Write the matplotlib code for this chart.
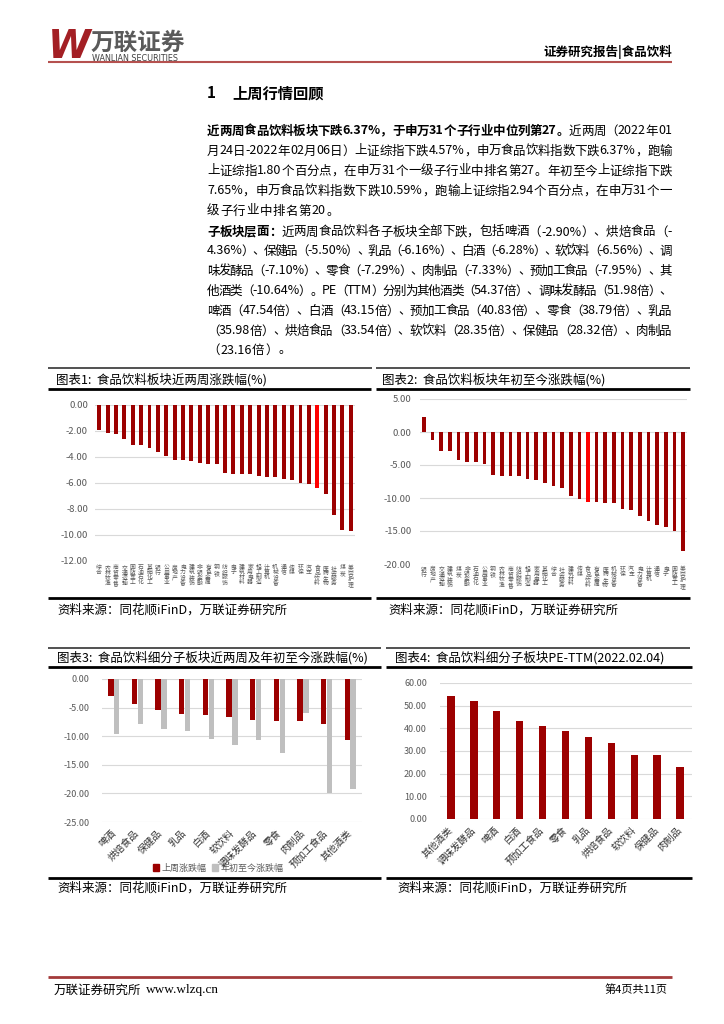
import re
import matplotlib
matplotlib.use('Agg')
import matplotlib.pyplot as plt
from matplotlib.lines import Line2D
from matplotlib.patches import Patch

plt.rcParams['font.family'] = ['Noto Sans CJK SC', 'DejaVu Sans']
plt.rcParams['axes.unicode_minus'] = False

# ---------------- data ----------------
ind_2w = ['综合', '农林牧渔', '商贸零售', '交通运输', '国防军工', '石油石化', '基础化工', '银行',
          '公用事业', '房地产', '电力设备', '建筑装饰', '非银金融', '有色金属', '钢铁', '纺织服饰',
          '电子', '建筑材料', '家用电器', '轻工制造', '计算机', '机械设备', '通信', '传媒',
          '环保', '汽车', '食品饮料', '医药生物', '社会服务', '煤炭', '美容护理']
chg_2w = [-1.95, -2.13, -2.26, -2.62, -3.05, -3.10, -3.28, -3.62, -3.92, -4.21, -4.21, -4.28,
          -4.46, -4.51, -4.54, -5.26, -5.28, -5.28, -5.31, -5.49, -5.54, -5.54, -5.69, -5.77,
          -6.03, -6.08, -6.37, -6.82, -8.49, -9.62, -9.69]

ind_ytd = ['银行', '房地产', '交通运输', '建筑装饰', '煤炭', '非银金融', '石油石化', '公用事业',
           '钢铁', '农林牧渔', '商贸零售', '纺织服饰', '轻工制造', '家用电器', '基础化工', '综合',
           '社会服务', '建筑材料', '传媒', '食品饮料', '有色金属', '医药生物', '机械设备', '环保',
           '汽车', '电力设备', '计算机', '通信', '电子', '国防军工', '美容护理']
chg_ytd = [2.33, -1.27, -2.83, -2.83, -4.20, -4.50, -4.60, -4.86, -6.53, -6.68, -6.73, -6.73,
           -7.09, -7.34, -7.69, -8.20, -8.45, -9.67, -10.17, -10.59, -10.58, -10.73, -10.83,
           -11.64, -11.79, -12.75, -13.41, -14.12, -14.37, -14.98, -17.97]

sub_names = ['啤酒', '烘焙食品', '保健品', '乳品', '白酒', '软饮料', '调味发酵品', '零食',
             '肉制品', '预加工食品', '其他酒类']
sub_2w = [-2.90, -4.36, -5.50, -6.16, -6.28, -6.56, -7.10, -7.29, -7.33, -7.95, -10.64]
sub_ytd = [-9.64, -7.83, -8.76, -9.11, -10.46, -11.62, -10.63, -12.91, -5.90, -19.92, -19.28]
legend_labels = ['上周涨跌幅', '年初至今涨跌幅']

pe_names = ['其他酒类', '调味发酵品', '啤酒', '白酒', '预加工食品', '零食', '乳品', '烘焙食品',
            '软饮料', '保健品', '肉制品']
pe_vals = [54.37, 51.98, 47.54, 43.15, 40.83, 38.79, 35.98, 33.54, 28.35, 28.32, 23.16]

DARK = '#9C0000'
BRIGHT = '#FF0000'
GRAY_BAR = '#BFBFBF'
GRID = '#D9D9D9'
TICK = '#595959'

W, H = 724, 1024
fig = plt.figure(figsize=(7.24, 10.24), dpi=100)
fig.patch.set_facecolor('white')


def fx(x):
    return x / W


def fy(y):
    return 1 - y / H


def hline(y, x0, x1, color='black', lw=1.0):
    fig.add_artist(Line2D([fx(x0), fx(x1)], [fy(y), fy(y)], color=color, lw=lw,
                          transform=fig.transFigure, solid_capstyle='butt'))


def add_ax(l, r, t, b):
    return fig.add_axes([fx(l), fy(b), (r - l) / W, (b - t) / H])


def style_ax(ax, ticks, ypad, size=6.5):
    ax.set_yticks(ticks)
    ax.set_yticklabels([f'{v:.2f}' for v in ticks])
    ax.tick_params(axis='y', length=0, pad=ypad, labelsize=size, labelcolor=TICK)
    ax.grid(axis='y', color=GRID, lw=0.8)
    ax.set_axisbelow(True)
    for s in ax.spines.values():
        s.set_visible(False)


# ---------------- header ----------------
fig.text(fx(48), fy(47), 'W', fontsize=28, fontweight='bold', style='italic',
         color='#A31F24', family='DejaVu Sans', va='center', ha='left')
fig.text(fx(91), fy(43), '万联证券', fontsize=17, fontweight='bold', color='#5A5A5A',
         va='center', ha='left')
fig.text(fx(92), fy(58.5), 'WANLIAN SECURITIES', fontsize=5.8, color='#404040',
         family='DejaVu Sans', va='center', ha='left')
fig.text(fx(672), fy(52), '证券研究报告|食品饮料', fontsize=9, fontweight='bold',
         va='center', ha='right')
hline(62, 48, 672, color='#B5514F', lw=1.5)

# ---------------- section title ----------------
fig.text(fx(207), fy(93), '1', fontsize=11, fontweight='bold', va='center', ha='left')
fig.text(fx(232), fy(93), '上周行情回顾', fontsize=11, fontweight='bold', va='center', ha='left')

# ---------------- paragraphs (justified) ----------------
renderer = fig.canvas.get_renderer()
TOKEN = re.compile(r'[A-Za-z0-9.%\-]+|.')


def text_line(y, segs, justify=True, x0=207, x1=672, size=9):
    items = []
    for txt, bold in segs:
        for tok in TOKEN.findall(txt):
            t = fig.text(0, fy(y), tok, fontsize=size,
                         fontweight='bold' if bold else 'normal',
                         va='center', ha='left', color='black')
            items.append(t)
    widths = [t.get_window_extent(renderer).width for t in items]
    total = sum(widths)
    n = len(items)
    gap = (x1 - x0 - total) / (n - 1) if (justify and n > 1) else 0.6
    x = x0
    for t, w in zip(items, widths):
        t.set_x(fx(x))
        x += w + gap


p1 = [
    [('近两周食品饮料板块下跌6.37%，于申万31个子行业中位列第27。', True), ('近两周（2022年01', False)],
    [('月24日-2022年02月06日）上证综指下跌4.57%，申万食品饮料指数下跌6.37%，跑输', False)],
    [('上证综指1.80个百分点，在申万31个一级子行业中排名第27。年初至今上证综指下跌', False)],
    [('7.65%，申万食品饮料指数下跌10.59%，跑输上证综指2.94个百分点，在申万31个一', False)],
    [('级子行业中排名第20。', False)],
]
p1_y = [131, 151, 171, 191, 211]
for i, (segs, y) in enumerate(zip(p1, p1_y)):
    text_line(y, segs, justify=(i < len(p1) - 1))

p2 = [
    [('子板块层面：', True), ('近两周食品饮料各子板块全部下跌，包括啤酒（-2.90%）、烘焙食品（-', False)],
    [('4.36%）、保健品（-5.50%）、乳品（-6.16%）、白酒（-6.28%）、软饮料（-6.56%）、调', False)],
    [('味发酵品（-7.10%）、零食（-7.29%）、肉制品（-7.33%）、预加工食品（-7.95%）、其', False)],
    [('他酒类（-10.64%）。PE（TTM）分别为其他酒类（54.37倍）、调味发酵品（51.98倍）、', False)],
    [('啤酒（47.54倍）、白酒（43.15倍）、预加工食品（40.83倍）、零食（38.79倍）、乳品', False)],
    [('（35.98倍）、烘焙食品（33.54倍）、软饮料（28.35倍）、保健品（28.32倍）、肉制品', False)],
    [('（23.16倍）。', False)],
]
p2_y = [232, 251, 271, 291, 311, 331, 350]
for i, (segs, y) in enumerate(zip(p2, p2_y)):
    text_line(y, segs, justify=(i < len(p2) - 1))

# ---------------- frame lines & titles ----------------
SRC = '资料来源：同花顺iFinD，万联证券研究所'
# row 1
hline(368, 48, 372, color='#333333', lw=1.2)
hline(368, 376, 690, color='#333333', lw=1.2)
hline(389, 48, 371, lw=2.0)
hline(389, 376, 690, lw=2.0)
hline(598, 48, 371, lw=2.0)
hline(598, 376, 690, lw=2.0)
fig.text(fx(56), fy(380), '图表1:  食品饮料板块近两周涨跌幅(%)', fontsize=9, va='center', ha='left')
fig.text(fx(382), fy(380), '图表2:  食品饮料板块年初至今涨跌幅(%)', fontsize=9, va='center', ha='left')
fig.text(fx(57), fy(610), SRC, fontsize=9, style='italic', va='center', ha='left')
fig.text(fx(388), fy(610), SRC, fontsize=9, style='italic', va='center', ha='left')
# row 2
hline(648, 48, 381, color='#333333', lw=1.2)
hline(648, 386, 690, color='#333333', lw=1.2)
hline(667, 48, 381, lw=2.0)
hline(667, 386, 692, lw=2.0)
hline(878, 48, 381, lw=2.0)
hline(878, 386, 692, lw=2.0)
fig.text(fx(57), fy(658), '图表3:  食品饮料细分子板块近两周及年初至今涨跌幅(%)', fontsize=9,
         va='center', ha='left')
fig.text(fx(395), fy(658), '图表4:  食品饮料细分子板块PE-TTM(2022.02.04)', fontsize=9,
         va='center', ha='left')
fig.text(fx(57), fy(888), SRC, fontsize=9, style='italic', va='center', ha='left')
fig.text(fx(397), fy(888), SRC, fontsize=9, style='italic', va='center', ha='left')

# ---------------- chart 1 ----------------
ax1 = add_ax(95, 355, 405, 561)
x1 = list(range(len(ind_2w)))
ax1.bar(x1, chg_2w, width=0.47,
        color=[BRIGHT if n == '食品饮料' else DARK for n in ind_2w])
ax1.set_xlim(-0.5, len(ind_2w) - 0.5)
ax1.set_ylim(-12, 0)
style_ax(ax1, [0, -2, -4, -6, -8, -10, -12], 5, size=6.8)
ax1.set_xticks(x1)
ax1.set_xticklabels(['\n'.join(n) for n in ind_2w], fontsize=4.2, color=TICK,
                    linespacing=0.95, va='top')
ax1.tick_params(axis='x', length=0, pad=3)

# ---------------- chart 2 ----------------
ax2 = add_ax(419.7, 687.3, 399, 564)
x2 = list(range(len(ind_ytd)))
ax2.bar(x2, chg_ytd, width=0.42,
        color=[BRIGHT if n == '食品饮料' else DARK for n in ind_ytd])
ax2.set_xlim(-0.5, len(ind_ytd) - 0.5)
ax2.set_ylim(-20, 5)
style_ax(ax2, [5, 0, -5, -10, -15, -20], 6, size=6.8)
ax2.set_xticks(x2)
ax2.set_xticklabels(['\n'.join(n) for n in ind_ytd], fontsize=4.2, color=TICK,
                    linespacing=0.95, va='top')
ax2.tick_params(axis='x', length=0, pad=2)

# ---------------- chart 3 ----------------
ax3 = add_ax(102, 362, 679, 822)
x3 = list(range(len(sub_names)))
bw = 0.23
ax3.bar([v - 0.125 for v in x3], sub_2w, width=bw, color=DARK, label=legend_labels[0])
ax3.bar([v + 0.125 for v in x3], sub_ytd, width=bw, color=GRAY_BAR, label=legend_labels[1])
ax3.set_xlim(-0.5, len(sub_names) - 0.5)
ax3.set_ylim(-25, 0)
style_ax(ax3, [0, -5, -10, -15, -20, -25], 9)
ax3.set_xticks(x3)
ax3.set_xticklabels(sub_names, fontsize=7, rotation=45, ha='right', va='center',
                    rotation_mode='anchor', color='#333333')
ax3.tick_params(axis='x', length=0, pad=7)
fig.legend(handles=[Patch(color=DARK), Patch(color=GRAY_BAR)], labels=legend_labels,
           loc='center', bbox_to_anchor=(fx(218), fy(868)), ncol=2, frameon=False,
           fontsize=6.5, handlelength=0.7, handleheight=0.7, handletextpad=0.25,
           columnspacing=0.6, labelcolor=TICK)

# ---------------- chart 4 ----------------
ax4 = add_ax(439.5, 691.5, 683, 819)
x4 = list(range(len(pe_names)))
ax4.bar(x4, pe_vals, width=0.32, color=DARK)
ax4.set_xlim(-0.5, len(pe_names) - 0.5)
ax4.set_ylim(0, 60)
style_ax(ax4, [0, 10, 20, 30, 40, 50, 60], 9)
ax4.set_xticks(x4)
ax4.set_xticklabels(pe_names, fontsize=7, rotation=45, ha='right', va='center',
                    rotation_mode='anchor', color='#333333')
ax4.tick_params(axis='x', length=0, pad=7)

# ---------------- footer ----------------
hline(977, 48, 672, color='#A33A3A', lw=2.0)
ft = fig.text(fx(54), fy(990), '万联证券研究所', fontsize=9, va='center', ha='left')
fig.text(fx(54) + ft.get_window_extent(renderer).width / W + 4 / W, fy(990), 'www.wlzq.cn',
         fontsize=9.5, family='Liberation Serif', va='center', ha='left')
fig.text(fx(668), fy(990), '第4页共11页', fontsize=8, va='center', ha='right')

fig.savefig('out.png', dpi=100, facecolor='white')
